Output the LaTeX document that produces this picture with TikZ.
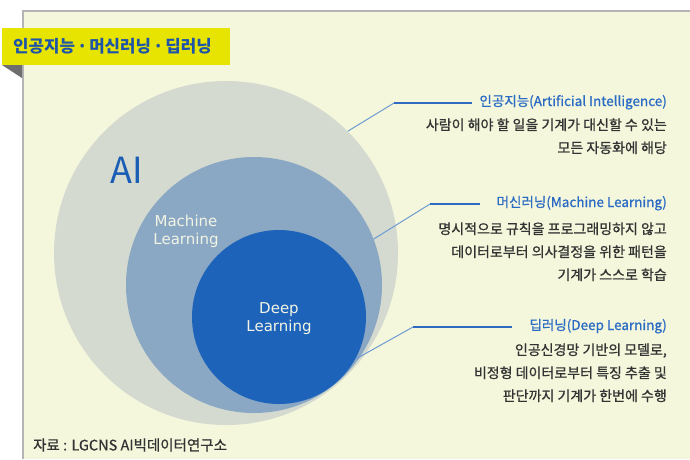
\documentclass[tikz,border=0pt]{standalone}
\usepackage{fontspec}
\setmainfont{Noto Sans CJK KR}
\newfontfamily\krfont{Noto Sans CJK KR}
\newfontfamily\krmed[FakeBold=0.8]{Noto Sans CJK KR}
\newfontfamily\dvfont{DejaVu Sans}
\definecolor{bgpaper}{HTML}{F4F7DB}
\definecolor{framegray}{HTML}{B4B4B4}
\definecolor{titleyel}{HTML}{E6E400}
\definecolor{foldgray}{HTML}{6E6E6E}
\definecolor{titleblue}{HTML}{1F55A8}
\definecolor{aicol}{HTML}{D4DAD0}
\definecolor{mlcol}{HTML}{8AA8C4}
\definecolor{dlcol}{HTML}{1D63BA}
\definecolor{aitext}{HTML}{1A5DB5}
\definecolor{labwhite}{HTML}{F2F4E4}
\definecolor{headblue}{HTML}{2A6BC4}
\definecolor{bodygray}{HTML}{333333}
\definecolor{diagblue}{HTML}{6D9BD2}
\definecolor{hblue}{HTML}{2F6CC1}
\tikzset{
  ring/.style={circle, inner sep=0pt, draw=none},
  headtxt/.style={anchor=east, inner sep=0pt, text=headblue, font=\krmed\fontsize{13.5}{16}\selectfont, text height=0.8em, text depth=0.2em},
  bodytxt/.style={anchor=east, inner sep=0pt, text=bodygray, font=\krmed\fontsize{14}{16}\selectfont, text height=0.8em, text depth=0.2em},
  diagline/.style={draw=diagblue, line width=1pt},
  hline/.style={draw=hblue, line width=1.6pt},
  inlabel/.style={align=center, inner sep=0pt, text=labwhite, font=\dvfont\fontsize{15}{18}\selectfont}
}
\begin{document}
\begin{tikzpicture}[x=1pt,y=-1pt]
\useasboundingbox (0,0) rectangle (690,459);
\fill[white] (0,0) rectangle (690,459);
\fill[bgpaper] (23,11) rectangle (690,459);
\draw[framegray, line width=2pt] (23,459) -- (23,11) -- (690,11);
% title band
\fill[titleyel] (2,28) rectangle (230,65);
\fill[foldgray] (2,65) -- (22,65) -- (22,78) -- cycle;
\node[anchor=west, inner sep=0pt, text=titleblue, font=\krfont\bfseries\fontsize{16.8}{20}\selectfont] (title) at (13,46) {인공지능\hspace{0.12em}·\hspace{0.12em}머신러닝\hspace{0.12em}·\hspace{0.12em}딥러닝};
% circles
\node[ring, fill=aicol, minimum size=344pt] (ai) at (226,253) {};
\node[ring, fill=mlcol, minimum size=256pt] (ml) at (254,285) {};
\node[ring, fill=dlcol, minimum size=174pt] (dl) at (279,317) {};
% circle labels
\node[inner sep=0pt, text=aitext, font=\krfont\fontsize{36}{40}\selectfont] (ailab) at (127,170) {AI};
\node[inlabel] (mllab) at (186,231) {Machine\\Learning};
\node[inlabel] (dllab) at (279,319) {Deep\\Learning};
% leaders
\coordinate (aik) at (394,103);
\coordinate (aie) at (472,103);
\coordinate (mlk) at (430,204);
\coordinate (mle) at (480,204);
\coordinate (dlk) at (413,327);
\coordinate (dle) at (512,327);
\draw[diagline] (ai.45) -- (aik);
\draw[hline] (aik) -- (aie);
\draw[diagline] (ml.21.5) -- (mlk);
\draw[hline] (mlk) -- (mle);
\draw[diagline] (dl.-29) -- (dlk);
\draw[hline] (dlk) -- (dle);
% AI text
\node[headtxt] (aih) at (667,103) {인공지능(Artificial Intelligence)};
\node[bodytxt] (aib1) at (667,127) {사람이 해야 할 일을 기계가 대신할 수 있는};
\node[bodytxt] (aib2) at (667,150) {모든 자동화에 해당};
% ML text
\node[headtxt] (mlh) at (667,204) {머신러닝(Machine Learning)};
\node[bodytxt] (mlb1) at (667,231) {명시적으로 규칙을 프로그래밍하지 않고};
\node[bodytxt] (mlb2) at (667,254) {데이터로부터 의사결정을 위한 패턴을};
\node[bodytxt] (mlb3) at (667,277) {기계가 스스로 학습};
% DL text
\node[headtxt] (dlh) at (667,327) {딥러닝(Deep Learning)};
\node[bodytxt] (dlb1) at (667,352) {인공신경망 기반의 모델로,};
\node[bodytxt] (dlb2) at (667,375) {비정형 데이터로부터 특징 추출 및};
\node[bodytxt] (dlb3) at (667,398) {판단까지 기계가 한번에 수행};
% source
\node[anchor=west, inner sep=0pt, text=bodygray, font=\krmed\fontsize{14.5}{16}\selectfont] (src) at (33,445) {자료 : LGCNS AI빅데이터연구소};
\end{tikzpicture}
\end{document}
